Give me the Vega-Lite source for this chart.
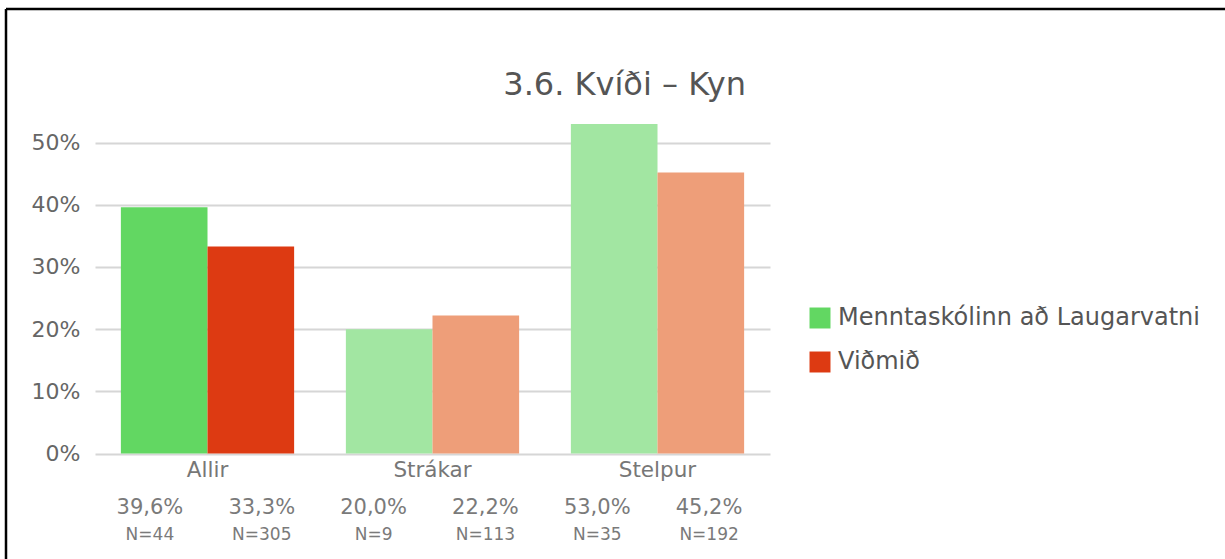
{
  "$schema": "https://vega.github.io/schema/vega-lite/v6.json",
  "width": 1219,
  "height": 550,
  "autosize": {"type": "none"},
  "padding": {"left": 6, "top": 9, "right": 0, "bottom": 0},
  "background": "white",
  "config": {
    "locale": {"number": {"decimal": ",", "thousands": ".", "grouping": [3], "currency": ["", " kr."]}},
    "view": {"stroke": "#000000", "strokeWidth": 2.5, "strokeDash": [1219, 1769, 550, 0]},
    "font": "DejaVu Sans"
  },
  "title": {
    "text": "3.6. Kvíði – Kyn",
    "anchor": "end",
    "frame": "group",
    "dx": -479,
    "offset": -93,
    "fontSize": 32,
    "fontWeight": "normal",
    "color": "#555555",
    "font": "DejaVu Sans"
  },
  "data": {
    "values": [
      {"group": "Allir", "series": "Menntaskólinn að Laugarvatni", "value": 0.396, "n": "N=44"},
      {"group": "Allir", "series": "Viðmið", "value": 0.333, "n": "N=305"},
      {"group": "Strákar", "series": "Menntaskólinn að Laugarvatni", "value": 0.200, "n": "N=9"},
      {"group": "Strákar", "series": "Viðmið", "value": 0.222, "n": "N=113"},
      {"group": "Stelpur", "series": "Menntaskólinn að Laugarvatni", "value": 0.530, "n": "N=35"},
      {"group": "Stelpur", "series": "Viðmið", "value": 0.452, "n": "N=192"}
    ]
  },
  "resolve": {"scale": {"x": "independent"}, "axis": {"x": "independent"}},
  "layer": [
    {
      "mark": {"type": "bar"},
      "encoding": {
        "x": {
          "field": "group", "type": "nominal", "sort": null,
          "scale": {"range": [89, 764], "paddingInner": 0.23, "paddingOuter": 0.115},
          "axis": {"title": null, "orient": "bottom", "offset": -105.5, "labelAngle": 0, "domain": false, "ticks": false, "labelPadding": 6, "labelFontSize": 21.5, "labelColor": "#777777", "labelFont": "DejaVu Sans"}
        },
        "xOffset": {"field": "series", "type": "nominal", "sort": null, "scale": {"paddingInner": 0, "paddingOuter": 0}},
        "y": {
          "field": "value", "type": "quantitative",
          "scale": {"domain": [0, 0.5], "range": [444.5, 133.6], "nice": false, "zero": true},
          "axis": {"title": null, "values": [0, 0.1, 0.2, 0.3, 0.4, 0.5], "format": ".0%", "offset": -89, "labelPadding": 15, "domain": false, "ticks": false, "grid": true, "gridColor": "#D6D6D6", "gridWidth": 2, "labelFontSize": 22, "labelColor": "#666666", "labelFont": "DejaVu Sans"}
        },
        "color": {
          "field": "series", "type": "nominal",
          "scale": {"domain": ["Menntaskólinn að Laugarvatni", "Viðmið"], "range": ["#62D762", "#DD3A12"]},
          "condition": [
            {"test": "datum.group !== 'Allir' && datum.series === 'Viðmið'", "value": "#EE9E79"},
            {"test": "datum.group !== 'Allir'", "value": "#A2E6A2"}
          ],
          "legend": {"title": null, "orient": "none", "legendX": 802, "legendY": 297, "symbolType": "square", "symbolSize": 440, "symbolStrokeWidth": 0, "labelFontSize": 24, "labelColor": "#555555", "labelFont": "DejaVu Sans", "labelLimit": 600, "rowPadding": 20, "labelOffset": 6}
        }
      }
    },
    {
      "mark": {"type": "text", "dy": 54, "baseline": "middle", "align": "center", "fontSize": 21, "color": "#7A7A7A"},
      "encoding": {
        "x": {"field": "n", "type": "nominal", "sort": null, "scale": {"range": [88, 759], "paddingInner": 0, "paddingOuter": 0}, "axis": null},
        "y": {"datum": 0, "type": "quantitative"},
        "text": {"field": "value", "type": "quantitative", "format": ".1%"}
      }
    },
    {
      "mark": {"type": "text", "dy": 81.5, "baseline": "middle", "align": "center", "fontSize": 17, "color": "#7A7A7A"},
      "encoding": {
        "x": {"field": "n", "type": "nominal", "sort": null, "scale": {"range": [88, 759], "paddingInner": 0, "paddingOuter": 0}, "axis": null},
        "y": {"datum": 0, "type": "quantitative"},
        "text": {"field": "n", "type": "nominal"}
      }
    }
  ]
}
